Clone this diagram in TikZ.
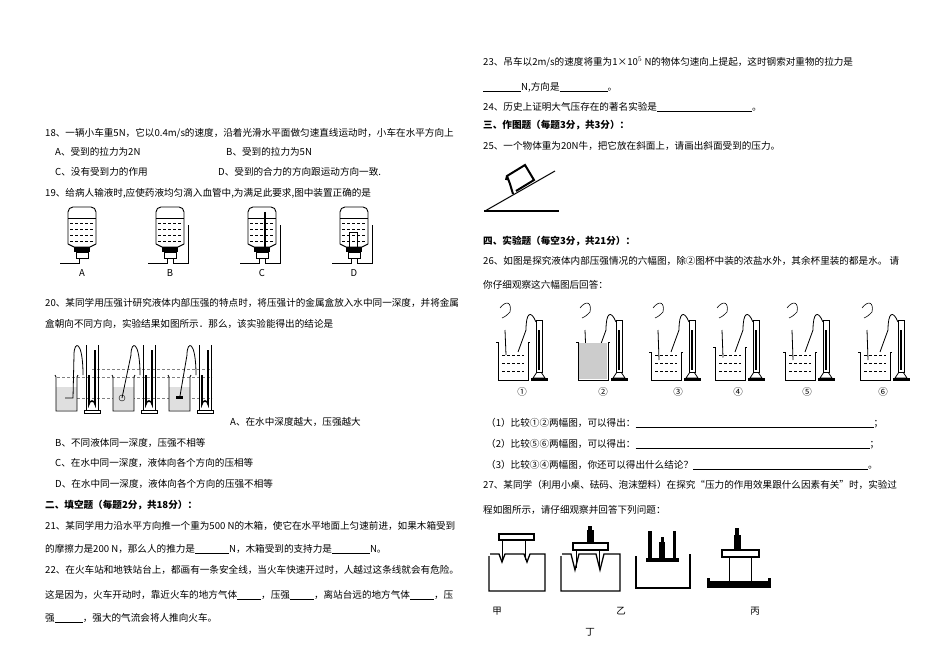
\documentclass[tikz,border=0pt]{standalone}
\usepackage{fontspec}
\setmainfont{Noto Sans CJK SC}
\begin{document}
\begin{tikzpicture}[x=1pt,y=-1pt,
  tx/.style={anchor=west,inner sep=0pt,font=\fontsize{9.6}{11}\selectfont},
  hd/.style={tx,font=\fontsize{9.6}{11}\selectfont\bfseries},
  lb/.style={inner sep=0pt,font=\fontsize{9.5}{11}\selectfont},
  dsh/.style={densely dashed,line width=0.4pt}]
\useasboundingbox (0,0) rectangle (950,671);
\fill[white] (0,0) rectangle (950,671);
% ---------- left column ----------
\node[tx] (q18) at (45,133) {18、一辆小车重5N，它以0.4m/s的速度，沿着光滑水平面做匀速直线运动时，小车在水平方向上};
\node[tx] (q18a) at (55,152) {A、受到的拉力为2N};
\node[tx] (q18b) at (226,152) {B、受到的拉力为5N};
\node[tx] (q18c) at (55,172) {C、没有受到力的作用};
\node[tx] (q18d) at (218,172) {D、受到的合力的方向跟运动方向一致.};
\node[tx] (q19) at (45,193) {19、给病人输液时,应使药液均匀滴入血管中,为满足此要求,图中装置正确的是};
% bottles
\foreach \cx/\L/\n in {82/A/1,170/B/2,262/C/3,354/D/4}{
  \draw[line width=0.9pt,rounded corners=5pt] (\cx-14,244) -- (\cx-14,207) -- (\cx+14,207) -- (\cx+14,244);
  \draw[line width=0.6pt] (\cx-14,218) -- (\cx+14,218);
  \foreach \yy in {223,229,235,241}{\draw[dsh,line width=0.8pt] (\cx-12,\yy) -- (\cx+12,\yy);}
  \draw[line width=0.9pt] (\cx-14,244) -- (\cx-8,247) -- (\cx+8,247) -- (\cx+14,244);
  \fill (\cx-8,247) rectangle (\cx+8,252);
  \draw[line width=0.9pt] (\cx-6,252) rectangle (\cx+6,258);
  \draw[line width=1pt] (\cx-3,258) -- (\cx-3,263) -- (\cx-22,263);
  \node[lb] (bl\n) at (\cx,273) {\L};
}
\foreach \cx in {170,262,354}{\draw[line width=1pt] (\cx+3,258) -- (\cx+3,263) -- (\cx+18,263) -- (\cx+18,225);}
\draw[line width=1.5pt] (265,212) -- (265,248);
\draw[line width=1pt] (349,232) rectangle (357,248);
\node[tx] (q20) at (45,303) {20、某同学用压强计研究液体内部压强的特点时，将压强计的金属盒放入水中同一深度，并将金属};
\node[tx] (q20b) at (45,324) {盒朝向不同方向，实验结果如图所示．那么，该实验能得出的结论是};
% fig 20
\draw[dsh,gray] (92,369) -- (212,369);
\draw[dsh,gray] (57,377) -- (212,377);
\draw[dsh,gray] (57,398) -- (212,398);
\foreach \bx in {0,57,113}{
  \fill[gray!25] (56+\bx,387) rectangle (77+\bx,410);
  \draw[line width=0.8pt] (55+\bx,375) -- (56+\bx,377) -- (56+\bx,411) -- (77+\bx,411) -- (77+\bx,377) -- (78+\bx,375);
  \draw[line width=0.6pt] (84+\bx,410) rectangle (100+\bx,413);
  \draw[line width=0.6pt] (86+\bx,345) -- (86+\bx,410) (98+\bx,345) -- (98+\bx,410);
  \draw[line width=1.6pt] (89+\bx,375) -- (89+\bx,404) arc[start angle=180,end angle=360,radius=3] -- (95+\bx,350);
  \draw[line width=0.8pt] (83+\bx,375) .. controls (83+\bx,340) and (74+\bx,340) .. (74+\bx,355);
}
\draw[line width=0.8pt] (74,355) -- (73,398) -- (65,398);
\draw[line width=0.8pt] (131,355) -- (122,398); \draw (122,398) circle (3);
\draw[line width=0.8pt] (187,355) -- (180,396); \fill (176,396) rectangle (183,399);
\node[tx] (q20a) at (230,422) {A、在水中深度越大，压强越大};
\node[tx] (q20bb) at (55,443) {B、不同液体同一深度，压强不相等};
\node[tx] (q20c) at (55,463) {C、在水中同一深度，液体向各个方向的压相等};
\node[tx] (q20d) at (55,484) {D、在水中同一深度，液体向各个方向的压强不相等};
\node[hd] (s2) at (45,505) {二、填空题（每题2分，共18分）：};
\node[tx] (q21) at (45,526) {21、某同学用力沿水平方向推一个重为500 N的木箱，使它在水平地面上匀速前进，如果木箱受到};
\node[tx] (q21b) at (45,549) {的摩擦力是200 N，那么人的推力是\underline{\hspace{34pt}}N，木箱受到的支持力是\underline{\hspace{38pt}}N。};
\node[tx] (q22) at (45,570) {22、在火车站和地铁站台上，都画有一条安全线，当火车快速开过时，人越过这条线就会有危险。};
\node[tx] (q22b) at (45,595) {这是因为，火车开动时，靠近火车的地方气体\underline{\hspace{24pt}}，压强\underline{\hspace{24pt}}，离站台远的地方气体\underline{\hspace{24pt}}，压};
\node[tx] (q22c) at (45,618) {强\underline{\hspace{28pt}}，强大的气流会将人推向火车。};
% ---------- right column ----------
\node[tx] (q23) at (483,62) {23、吊车以2m/s的速度将重为1×10$^5$ N的物体匀速向上提起，这时钢索对重物的拉力是};
\node[tx] (q23b) at (483,87) {\underline{\hspace{38pt}}N,方向是\underline{\hspace{48pt}}。};
\node[tx] (q24) at (483,107) {24、历史上证明大气压存在的著名实验是\underline{\hspace{95pt}}。};
\node[hd] (s3) at (483,125) {三、作图题（每题3分，共3分）：};
\node[tx] (q25) at (483,146) {25、一个物体重为20N牛，把它放在斜面上，请画出斜面受到的压力。};
\draw[line width=1pt] (485,211) -- (555,171);
\draw[line width=1.6pt] (484,211) -- (559,211);
\draw[line width=2pt] (513,194) -- (510,184) -- (507,176) -- (525,165) -- (534,180) -- (516,191) (507,176) -- (506,180);
\node[hd] (s4) at (483,241) {四、实验题（每空3分，共21分）：};
\node[tx] (q26) at (483,261) {26、如图是探究液体内部压强情况的六幅图，除②图杯中装的浓盐水外，其余杯里装的都是水。 请};
\node[tx] (q26b) at (483,285) {你仔细观察这六幅图后回答：};
% six manometers
\foreach \bx/\lab/\lx/\dy/\n in {498/①/522/0/1,578/②/603/0/2,651/③/678/10/3,715/④/738/5/4,785/⑤/807/10/5,860/⑥/883/10/6}{
  \draw[line width=0.8pt] (\bx-2,342+\dy) -- (\bx,342+\dy) -- (\bx,380) -- (\bx+30,380) -- (\bx+30,342+\dy) -- (\bx+32,342+\dy);
  \foreach \yy in {355,363,371}{\draw[densely dashed,line width=0.5pt] (\bx+4,\yy) -- (\bx+26,\yy);}
  \draw[line width=0.8pt] (\bx+38,320) rectangle (\bx+44,372);
  \draw[line width=1.2pt] (\bx+41,330) -- (\bx+41,370);
  \draw[line width=0.8pt] (\bx+39,372) -- (\bx+35,378) -- (\bx+47,378) -- (\bx+43,372);
  \fill (\bx+33,378) rectangle (\bx+50,381);
  \draw[line width=0.8pt] (\bx+38,322) .. controls (\bx+33,310) and (\bx+28,312) .. (\bx+28,330) -- (\bx+20,352);
  \draw[line width=0.8pt] (\bx+7,330) -- (\bx+8,355+0.5*\dy);
  \draw[line width=0.6pt] (\bx+2,308) .. controls (\bx+8,300) and (\bx+14,302) .. (\bx+12,312) .. controls (\bx+8,316) .. (\bx+4,318);
  \node[lb] (m\n) at (\lx,392) {\lab};
}
\fill[gray!40] (579,343) rectangle (607,379);
\node[tx] (q26p1) at (486,423) {（1）比较①②两幅图，可以得出：\underline{\hspace{238pt}}；};
\node[tx] (q26p2) at (486,444) {（2）比较⑤⑥两幅图，可以得出：\underline{\hspace{234pt}}；};
\node[tx] (q26p3) at (486,465) {（3）比较③④两幅图，你还可以得出什么结论？\underline{\hspace{175pt}}。};
\node[tx] (q27) at (483,485) {27、某同学（利用小桌、砝码、泡沫塑料）在探究“压力的作用效果跟什么因素有关”时，实验过};
\node[tx] (q27b) at (483,510) {程如图所示，请仔细观察并回答下列问题：};
% tables
\draw[line width=1.3pt] (489,556) -- (489,591) -- (545,591) -- (545,554) -- (530,554) -- (527,562) -- (524,554) -- (505,554) -- (502,562) -- (499,554) -- (490,554);
\draw[line width=1.3pt] (499,534) rectangle (534,540); \draw[line width=1pt] (502,540) -- (502,560) (525,540) -- (525,560);
\draw[line width=1.3pt] (561,556) -- (561,591) -- (620,591) -- (620,554) -- (604,554) -- (600,570) -- (596,554) -- (579,554) -- (575,570) -- (571,554) -- (562,554);
\draw[line width=1.3pt] (573,543) rectangle (608,550); \draw[line width=1pt] (576,550) -- (576,568) (599,550) -- (599,568);
\fill (587,530) rectangle (594,543); \fill (588,526) rectangle (592,530);
\draw[line width=1.3pt] (636,556) -- (636,588) -- (690,588) -- (690,554);
\fill (646,558) rectangle (679,562); \fill (648,531) rectangle (652,558); \fill (673,531) rectangle (676,558);
\fill (659,542) rectangle (665,558); \fill (661,537) rectangle (664,542);
\draw[line width=1.3pt] (722,550) rectangle (759,557); \draw[line width=1pt] (729,557) -- (729,581) (751,557) -- (751,581);
\fill (734,535) rectangle (741,550); \fill (735,528) rectangle (739,535);
\fill (707,581) rectangle (771,588); \fill (707,578) rectangle (710,581); \fill (768,578) rectangle (771,581);
\node[lb] (j1) at (497,611) {甲};
\node[lb] (j2) at (621,611) {乙};
\node[lb] (j3) at (755,611) {丙};
\node[lb] (j4) at (590,632) {丁};
\end{tikzpicture}
\end{document}
